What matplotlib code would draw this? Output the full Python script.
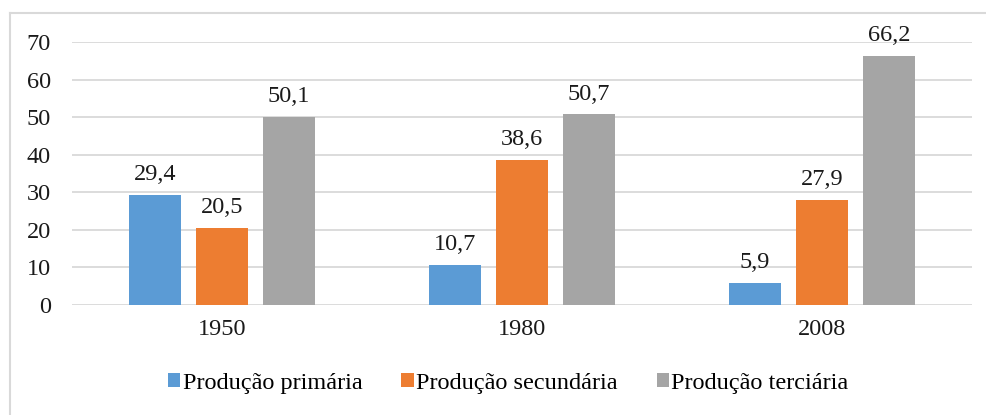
import matplotlib
matplotlib.use("Agg")
import matplotlib.pyplot as plt
from matplotlib.lines import Line2D
from matplotlib.patches import Patch
import numpy as np

years = ["1950", "1980", "2008"]
series_names = ["Produção primária", "Produção secundária", "Produção terciária"]
primaria = [29.4, 10.7, 5.9]
secundaria = [20.5, 38.6, 27.9]
terciaria = [50.1, 50.7, 66.2]
colors = ["#5B9BD5", "#ED7D31", "#A5A5A5"]
yticks = [0, 10, 20, 30, 40, 50, 60, 70]

plt.rcParams["font.family"] = ["Liberation Serif", "DejaVu Serif"]

fig = plt.figure(figsize=(9.87, 4.15), dpi=100)
ax = fig.add_axes([0.0729, 0.265, 0.912, 0.634])

FS = 17.5
x = np.arange(len(years))
width = 0.52 / 3
step = 0.67 / 3
for i, (vals, col) in enumerate(zip([primaria, secundaria, terciaria], colors)):
    pos = x + (i - 1) * step
    ax.bar(pos, vals, width=width, color=col, zorder=3)
    for p, v in zip(pos, vals):
        ax.text(p, v + 2.6, f"{v:.1f}".replace(".", ","), ha="center", va="bottom",
                fontsize=FS, color="#1a1a1a")

ax.set_xlim(-0.5, 2.5)
ax.set_ylim(0, 70)
ax.set_yticks(yticks)
ax.set_yticklabels([str(t) for t in yticks], fontsize=FS)
ax.set_xticks(x)
ax.set_xticklabels(years, fontsize=FS)
ax.tick_params(axis="both", length=0, colors="#1a1a1a")
ax.tick_params(axis="y", pad=15)
ax.tick_params(axis="x", pad=10)
ax.grid(axis="y", color="#d9d9d9", linewidth=1.3, zorder=0)
for s in ax.spines.values():
    s.set_visible(False)

handles = [Patch(facecolor=c, edgecolor="none") for c in colors]
fig.legend(handles, series_names, loc="center", bbox_to_anchor=(0.515, 0.077),
           ncol=3, frameon=False, fontsize=FS, handlelength=0.5, handleheight=0.5,
           handletextpad=0.1, columnspacing=1.6)

# chart area border (top and left edges visible)
fig.add_artist(Line2D([10 / 987, 1.0], [1 - 13 / 415, 1 - 13 / 415],
                      transform=fig.transFigure, color="#d9d9d9", linewidth=1.5))
fig.add_artist(Line2D([10 / 987, 10 / 987], [0.0, 1 - 13 / 415],
                      transform=fig.transFigure, color="#d9d9d9", linewidth=1.5))

fig.savefig("out.png", dpi=100)
